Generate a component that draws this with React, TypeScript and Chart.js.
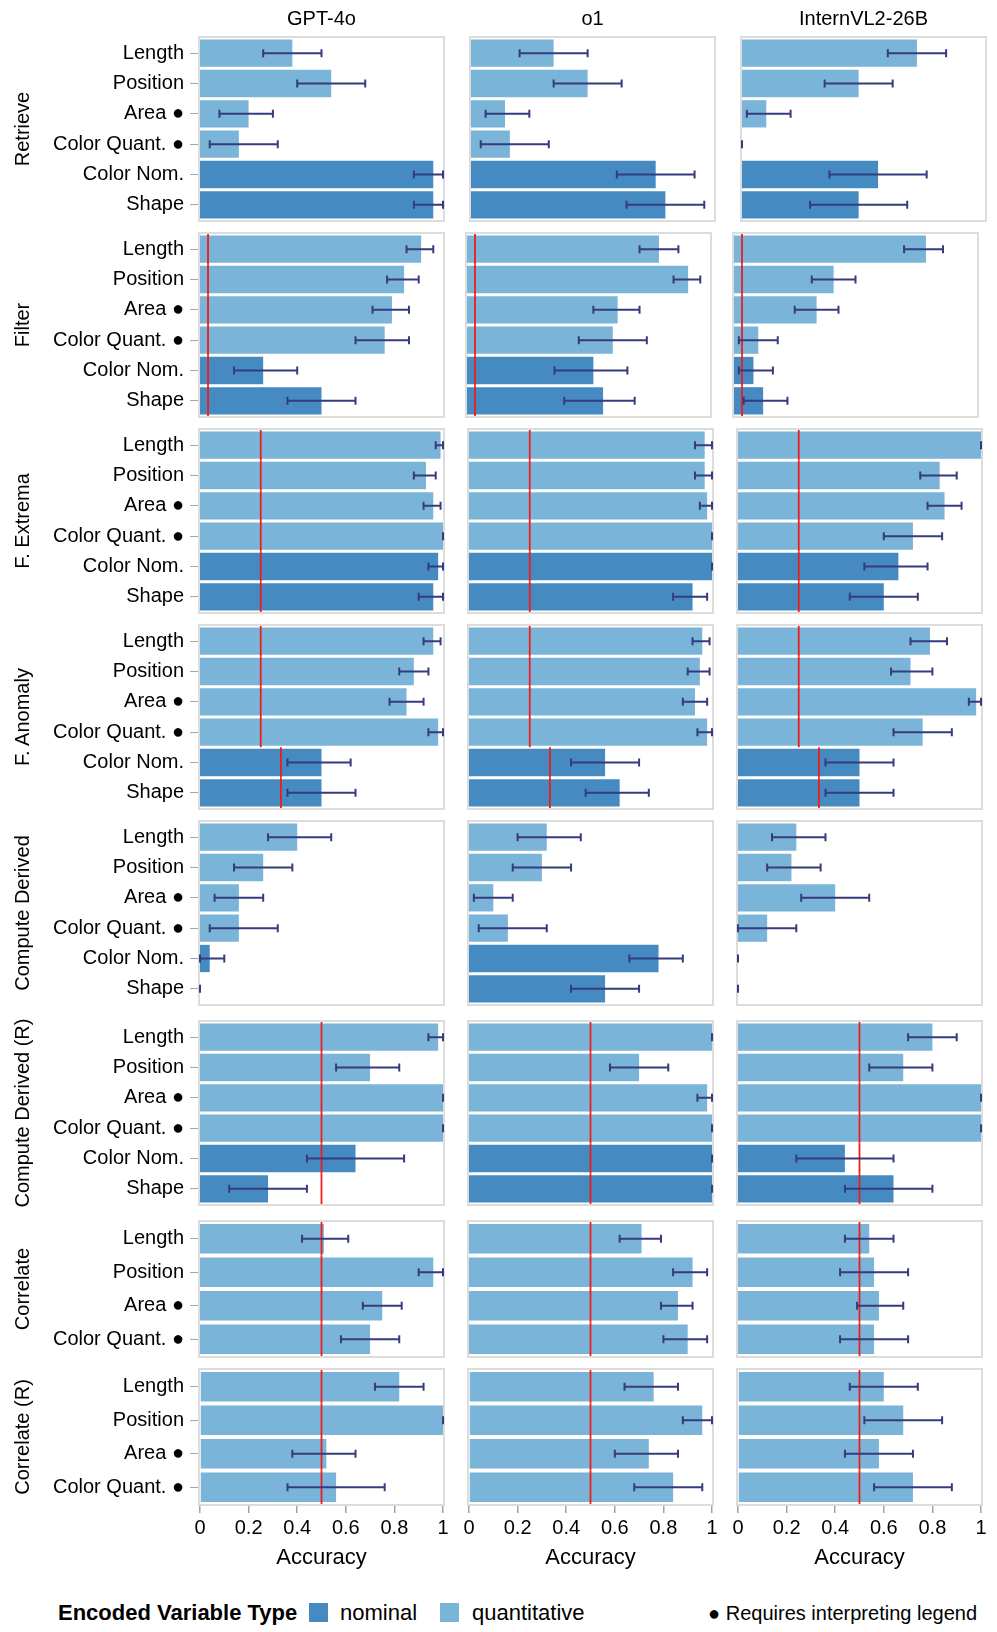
import React, { useEffect, useRef } from 'react';
import { Chart, registerables } from 'chart.js';
Chart.register(...registerables);

// ---------- data ----------
const TASKS = ['Retrieve', 'Filter', 'F. Extrema', 'F. Anomaly', 'Compute Derived', 'Compute Derived (R)', 'Correlate', 'Correlate (R)'];
const MODELS = ['GPT-4o', 'o1', 'InternVL2-26B'];
const ENC_LABELS = ['Length', 'Position', 'Area ●', 'Color Quant. ●', 'Color Nom.', 'Shape'];
const ENC_TYPES = ['quantitative', 'quantitative', 'quantitative', 'quantitative', 'nominal', 'nominal'];
const TASK_ENC_COUNT = [6, 6, 6, 6, 6, 6, 4, 4];
const X_TICK_STEP = 0.2;

const GPT4O_ACC = [
  [0.38, 0.54, 0.20, 0.16, 0.96, 0.96],
  [0.91, 0.84, 0.79, 0.76, 0.26, 0.50],
  [0.99, 0.93, 0.96, 1.0, 0.98, 0.96],
  [0.96, 0.88, 0.85, 0.98, 0.50, 0.50],
  [0.40, 0.26, 0.16, 0.16, 0.04, 0.0],
  [0.98, 0.70, 1.0, 1.0, 0.64, 0.28],
  [0.51, 0.96, 0.75, 0.70],
  [0.82, 1.0, 0.52, 0.56],
];
const GPT4O_LO = [
  [0.26, 0.40, 0.08, 0.04, 0.88, 0.88],
  [0.85, 0.77, 0.71, 0.64, 0.14, 0.36],
  [0.97, 0.88, 0.92, 1.0, 0.94, 0.90],
  [0.92, 0.82, 0.78, 0.94, 0.36, 0.36],
  [0.28, 0.14, 0.06, 0.04, 0.0, 0.0],
  [0.94, 0.56, 1.0, 1.0, 0.44, 0.12],
  [0.42, 0.90, 0.67, 0.58],
  [0.72, 1.0, 0.38, 0.36],
];
const GPT4O_HI = [
  [0.50, 0.68, 0.30, 0.32, 1.0, 1.0],
  [0.96, 0.90, 0.86, 0.86, 0.40, 0.64],
  [1.0, 0.97, 0.99, 1.0, 1.0, 1.0],
  [0.99, 0.94, 0.92, 1.0, 0.62, 0.64],
  [0.54, 0.38, 0.26, 0.32, 0.10, 0.0],
  [1.0, 0.82, 1.0, 1.0, 0.84, 0.44],
  [0.61, 1.0, 0.83, 0.82],
  [0.92, 1.0, 0.64, 0.76],
];

const O1_ACC = [
  [0.34, 0.48, 0.14, 0.16, 0.76, 0.80],
  [0.79, 0.91, 0.62, 0.60, 0.52, 0.56],
  [0.97, 0.97, 0.98, 1.0, 1.0, 0.92],
  [0.96, 0.95, 0.93, 0.98, 0.56, 0.62],
  [0.32, 0.30, 0.10, 0.16, 0.78, 0.56],
  [1.0, 0.70, 0.98, 1.0, 1.0, 1.0],
  [0.71, 0.92, 0.86, 0.90],
  [0.76, 0.96, 0.74, 0.84],
];
const O1_LO = [
  [0.20, 0.34, 0.06, 0.04, 0.60, 0.64],
  [0.71, 0.85, 0.52, 0.46, 0.36, 0.40],
  [0.93, 0.93, 0.95, 1.0, 1.0, 0.84],
  [0.92, 0.90, 0.88, 0.94, 0.42, 0.48],
  [0.20, 0.18, 0.02, 0.04, 0.66, 0.42],
  [1.0, 0.58, 0.94, 1.0, 1.0, 1.0],
  [0.62, 0.84, 0.79, 0.80],
  [0.64, 0.88, 0.60, 0.68],
];
const O1_HI = [
  [0.48, 0.62, 0.24, 0.32, 0.92, 0.96],
  [0.87, 0.96, 0.71, 0.74, 0.66, 0.69],
  [1.0, 1.0, 1.0, 1.0, 1.0, 0.98],
  [0.99, 0.99, 0.98, 1.0, 0.70, 0.74],
  [0.46, 0.42, 0.18, 0.32, 0.88, 0.70],
  [1.0, 0.82, 1.0, 1.0, 1.0, 1.0],
  [0.79, 0.98, 0.92, 0.98],
  [0.86, 1.0, 0.86, 0.96],
];

const INTERN_ACC = [
  [0.72, 0.48, 0.10, 0.0, 0.56, 0.48],
  [0.79, 0.41, 0.34, 0.10, 0.08, 0.12],
  [1.0, 0.83, 0.85, 0.72, 0.66, 0.60],
  [0.79, 0.71, 0.98, 0.76, 0.50, 0.50],
  [0.24, 0.22, 0.40, 0.12, 0.0, 0.0],
  [0.80, 0.68, 1.0, 1.0, 0.44, 0.64],
  [0.54, 0.56, 0.58, 0.56],
  [0.60, 0.68, 0.58, 0.72],
];
const INTERN_LO = [
  [0.60, 0.34, 0.02, 0.0, 0.36, 0.28],
  [0.70, 0.32, 0.25, 0.02, 0.02, 0.04],
  [1.0, 0.75, 0.78, 0.60, 0.52, 0.46],
  [0.71, 0.63, 0.95, 0.64, 0.36, 0.36],
  [0.14, 0.12, 0.26, 0.0, 0.0, 0.0],
  [0.70, 0.54, 1.0, 1.0, 0.24, 0.44],
  [0.44, 0.42, 0.49, 0.42],
  [0.46, 0.52, 0.44, 0.56],
];
const INTERN_HI = [
  [0.84, 0.62, 0.20, 0.0, 0.76, 0.68],
  [0.86, 0.50, 0.43, 0.18, 0.16, 0.22],
  [1.0, 0.90, 0.92, 0.84, 0.78, 0.74],
  [0.86, 0.80, 1.0, 0.88, 0.64, 0.64],
  [0.36, 0.34, 0.54, 0.24, 0.0, 0.0],
  [0.90, 0.80, 1.0, 1.0, 0.64, 0.80],
  [0.64, 0.70, 0.68, 0.70],
  [0.74, 0.84, 0.72, 0.88],
];

const CHANCE_FILTER = [0.033, 0.033, 0.033, 0.033, 0.033, 0.033];
const CHANCE_EXTREMA = [0.25, 0.25, 0.25, 0.25, 0.25, 0.25];
const CHANCE_ANOMALY = [0.25, 0.25, 0.25, 0.25, 0.333, 0.333];
const CHANCE_CDR = [0.5, 0.5, 0.5, 0.5, 0.5, 0.5];
const CHANCE_CORR = [0.5, 0.5, 0.5, 0.5];
const CHANCE = [null, CHANCE_FILTER, CHANCE_EXTREMA, CHANCE_ANOMALY, null, CHANCE_CDR, CHANCE_CORR, CHANCE_CORR];

const ACC = [GPT4O_ACC, O1_ACC, INTERN_ACC];
const LO = [GPT4O_LO, O1_LO, INTERN_LO];
const HI = [GPT4O_HI, O1_HI, INTERN_HI];

// ---------- style / layout ----------
const COLORS: Record<string, string> = { nominal: '#458bc2', quantitative: '#7bb4d9' };
const FONT = "'Liberation Sans', Arial, Helvetica, sans-serif";
const ERR_COLOR = '#363b7e';
const CHANCE_COLOR = '#f01c1c';
const FRAME_COLOR = '#dcdcdc';

const COL_AREA = [[200, 443], [469, 712], [738, 981]];
const ROW_AREA = [[38, 220], [234, 416], [430, 612], [626, 808], [822, 1004], [1022, 1204], [1222, 1356], [1370, 1504]];
const SHIFT = [[0, 2, 4], [0, -2, -4], [0, 0, 0], [0, 0, 0], [0, 0, 0], [0, 0, 0], [0, 0, 0], [0, 0, 0]];
const AXIS_H = 67;
const PAD = 22;

function decorPlugin(lo: number[], hi: number[], chance: number[] | null) {
  return {
    id: 'decor',
    beforeDatasetsDraw(chart: any) {
      const { ctx, chartArea: a } = chart;
      ctx.save();
      ctx.strokeStyle = FRAME_COLOR;
      ctx.lineWidth = 2;
      ctx.strokeRect(a.left - 1, a.top - 1, a.right - a.left + 2, a.bottom - a.top + 2);
      ctx.restore();
    },
    afterDatasetsDraw(chart: any) {
      const { ctx } = chart;
      const xs = chart.scales.x;
      const ys = chart.scales.y;
      const band = Math.abs(ys.getPixelForValue(1) - ys.getPixelForValue(0));
      ctx.save();
      if (chance) {
        ctx.strokeStyle = CHANCE_COLOR;
        ctx.lineWidth = 1.8;
        chance.forEach((v, i) => {
          const x = xs.getPixelForValue(v);
          const yc = ys.getPixelForValue(i);
          ctx.beginPath();
          ctx.moveTo(x, yc - band / 2);
          ctx.lineTo(x, yc + band / 2);
          ctx.stroke();
        });
      }
      ctx.strokeStyle = ERR_COLOR;
      ctx.lineWidth = 2;
      lo.forEach((l, i) => {
        const x1 = xs.getPixelForValue(l);
        const x2 = xs.getPixelForValue(hi[i]);
        const yc = ys.getPixelForValue(i);
        ctx.beginPath();
        ctx.moveTo(x1, yc);
        ctx.lineTo(x2, yc);
        ctx.moveTo(x1, yc - 4);
        ctx.lineTo(x1, yc + 4);
        ctx.moveTo(x2, yc - 4);
        ctx.lineTo(x2, yc + 4);
        ctx.stroke();
      });
      ctx.restore();
    },
  };
}

function Panel({ r, c }: { r: number; c: number }) {
  const ref = useRef<HTMLCanvasElement>(null);
  const first = c === 0;
  const last = r === TASKS.length - 1;
  const aL = COL_AREA[c][0] + SHIFT[r][c];
  const aR = COL_AREA[c][1] + SHIFT[r][c];
  const [aT, aB] = ROW_AREA[r];
  const cl = first ? 0 : aL - 14;
  const ct = aT - PAD;
  const cr = aR + 14;
  const cb = last ? aB + AXIS_H : aB + PAD;
  const w = cr - cl;
  const h = cb - ct;

  useEffect(() => {
    const n = TASK_ENC_COUNT[r];
    const labels = ENC_LABELS.slice(0, n);
    const acc = ACC[c][r];
    const xScale: any = {
      type: 'linear',
      min: 0,
      max: 1,
      display: last,
      border: { display: false },
      grid: { drawOnChartArea: false, drawTicks: true, tickLength: 9, color: '#a3a3a3', lineWidth: 1.5 },
      ticks: {
        stepSize: X_TICK_STEP,
        autoSkip: false,
        maxRotation: 0,
        padding: 3,
        color: '#000',
        font: { family: FONT, size: 20 },
        callback: (v: any) => String(Math.round(Number(v) * 10) / 10),
      },
      title: {
        display: true,
        text: 'Accuracy',
        color: '#000',
        font: { family: FONT, size: 22 },
        padding: { top: 4, bottom: 0 },
      },
    };
    if (last) {
      xScale.afterFit = (s: any) => {
        s.height = AXIS_H;
      };
    }
    const yScale: any = {
      type: 'category',
      offset: true,
      display: first,
      border: { display: false },
      grid: { drawOnChartArea: false, drawTicks: true, tickLength: 10, color: '#a3a3a3', offset: false },
      ticks: { autoSkip: false, padding: 6, color: '#000', font: { family: FONT, size: 20 } },
    };
    if (first) {
      yScale.afterFit = (s: any) => {
        s.width = aL;
      };
    }
    const chart = new Chart(ref.current as HTMLCanvasElement, {
      type: 'bar',
      data: {
        labels,
        datasets: [
          {
            data: acc,
            backgroundColor: ENC_TYPES.slice(0, n).map((t) => COLORS[t]),
            borderWidth: 0,
            barPercentage: n === 6 ? 0.9 : 0.875,
            categoryPercentage: 1,
          },
        ],
      },
      options: {
        indexAxis: 'y',
        responsive: false,
        animation: false,
        events: [],
        layout: {
          padding: {
            left: first ? 0 : aL - cl,
            right: cr - aR,
            top: aT - ct,
            bottom: last ? 0 : cb - aB,
          },
        },
        plugins: { legend: { display: false }, tooltip: { enabled: false } },
        scales: { x: xScale, y: yScale },
      } as any,
      plugins: [decorPlugin(LO[c][r], HI[c][r], CHANCE[r])],
    });
    return () => chart.destroy();
  }, []);

  return (
    <canvas
      ref={ref}
      width={w}
      height={h}
      style={{ position: 'absolute', left: cl, top: ct, width: w, height: h }}
    />
  );
}

export default function App() {
  const panels: any[] = [];
  TASKS.forEach((_, r) => MODELS.forEach((__, c) => panels.push(<Panel key={`${r}-${c}`} r={r} c={c} />)));
  const text = (extra: any) => ({
    position: 'absolute' as const,
    whiteSpace: 'nowrap' as const,
    fontFamily: FONT,
    color: '#000',
    ...extra,
  });
  return (
    <div style={{ position: 'absolute', left: 0, top: 0, width: 997, height: 1632, background: '#fff', overflow: 'hidden' }}>
      {panels}
      {MODELS.map((m, c) => {
        const cx = (COL_AREA[c][0] + COL_AREA[c][1]) / 2 + SHIFT[0][c];
        return (
          <div key={m} style={text({ left: cx - 150, width: 300, top: 6, lineHeight: '24px', fontSize: 20, textAlign: 'center' })}>
            {m}
          </div>
        );
      })}
      {TASKS.map((t, r) => {
        const cy = (ROW_AREA[r][0] + ROW_AREA[r][1]) / 2;
        return (
          <div
            key={t}
            style={text({
              left: 22,
              top: cy,
              fontSize: 20,
              lineHeight: '24px',
              transform: 'translate(-50%, -50%) rotate(-90deg)',
            })}
          >
            {t}
          </div>
        );
      })}
      <div style={text({ left: 58, top: 1600, fontSize: 22, lineHeight: '26px', fontWeight: 'bold' })}>Encoded Variable Type</div>
      <div style={{ position: 'absolute', left: 309, top: 1603, width: 19, height: 19, background: COLORS.nominal }} />
      <div style={text({ left: 340, top: 1600, fontSize: 22, lineHeight: '26px' })}>nominal</div>
      <div style={{ position: 'absolute', left: 440, top: 1603, width: 19, height: 19, background: COLORS.quantitative }} />
      <div style={text({ left: 472, top: 1600, fontSize: 22, lineHeight: '26px' })}>quantitative</div>
      <div style={text({ right: 20, top: 1601, fontSize: 20, lineHeight: '24px', textAlign: 'right' })}>
        ● Requires interpreting legend
      </div>
    </div>
  );
}
